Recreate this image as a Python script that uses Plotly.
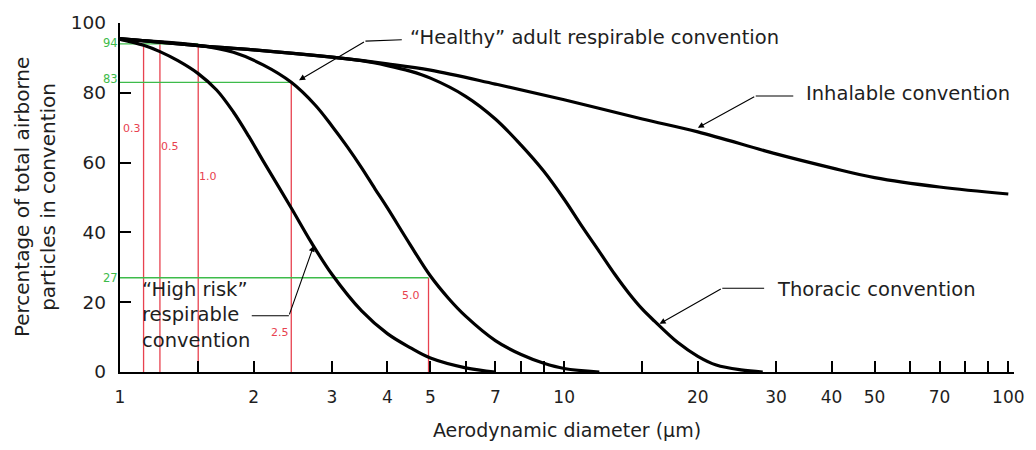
import math
import plotly.graph_objects as go

# ---------------- data ----------------
inh_d = [1, 1.5, 2, 3, 4, 5, 7, 10, 15, 20, 30, 40, 50, 70, 100]
inh_v = [95.5, 93.5, 92.3, 90.2, 88.3, 86.5, 82.5, 78, 72.5, 68.8, 62.5, 58.5, 55.7, 53, 51]

tho_d = [1, 1.5, 2, 3, 3.5, 4, 4.5, 5, 6, 7, 8, 9, 10, 11, 12, 13, 14, 15, 16, 18, 20, 22, 25, 28]
tho_v = [95.5, 93.5, 92.3, 90.2, 89.2, 87.8, 86.2, 84.2, 79, 72.5, 65, 57.5, 49.5, 41.5, 34.5, 28, 22.5, 18, 14.5, 8.5, 4.5, 2, 0.6, 0]

hea_d = [1, 1.5, 1.8, 2.1, 2.43, 2.75, 3, 3.25, 3.5, 3.75, 4, 4.5, 5, 5.5, 6, 7, 8, 9, 10, 12]
hea_v = [95.3, 93.6, 91.6, 88, 83, 76.5, 70.5, 64.5, 58.5, 52.5, 47, 36.5, 27.5, 21, 16, 9, 5, 2.5, 1, 0]

hr_d = [1, 1.13, 1.23, 1.35, 1.5, 1.65, 1.8, 1.95, 2.1, 2.43, 2.7, 3, 3.5, 4, 4.5, 5, 6, 7]
hr_v = [95.3, 93.6, 91.8, 89.2, 85.5, 80.8, 74.5, 67.5, 60.5, 47, 37, 28, 17.5, 11, 7, 4, 1.2, 0]

red_x = [1.13, 1.23, 1.5, 2.43, 4.95]
red_top = [94, 94, 94, 83, 27]
red_labels = ["0.3", "0.5", "1.0", "2.5", "5.0"]

green_y = [94, 83, 27]
green_xend = [1.5, 2.43, 4.95]
green_labels = ["94", "83", "27"]

x_tickvals = [1, 1.5, 2, 3, 4, 5, 6, 7, 8, 9, 10, 15, 20, 30, 40, 50, 60, 70, 80, 90, 100]
x_ticklabels = ["1", "", "2", "3", "4", "5", "", "7", "", "", "10", "", "20", "30", "40", "50", "", "70", "", "", "100"]
y_tickvals = [0, 20, 40, 60, 80, 100]

curve_names = ["Inhalable convention", "Thoracic convention",
               "\u201cHealthy\u201d adult respirable convention",
               "\u201cHigh risk\u201d<br>respirable<br>convention"]

x_title = "Aerodynamic diameter (\u03bcm)"
y_title = "Percentage of total airborne<br>particles in convention"

# ---------------- layout helpers (positions / styles) ----------------
FONT = "DejaVu Sans"
RED = "#e8424f"
GREEN = "#3dbb4a"
TXT = "#1e1e1e"
L = math.log10

fig = go.Figure()

# reference lines
for x, top in zip(red_x, red_top):
    fig.add_trace(go.Scatter(x=[x, x], y=[0, top], mode="lines",
                             line=dict(color=RED, width=1.3), hoverinfo="skip", showlegend=False))
for y, xe in zip(green_y, green_xend):
    fig.add_trace(go.Scatter(x=[1, xe], y=[y, y], mode="lines",
                             line=dict(color=GREEN, width=1.3), hoverinfo="skip", showlegend=False))

# curves
for d, v in [(inh_d, inh_v), (tho_d, tho_v), (hea_d, hea_v), (hr_d, hr_v)]:
    fig.add_trace(go.Scatter(x=d, y=v, mode="lines",
                             line=dict(color="black", width=3.2, shape="spline", smoothing=1.0),
                             hoverinfo="skip", showlegend=False))

# leader lines: (text end, elbow, tip)
leaders = [
    ([4.31, 3.57, 2.53], [95.2, 94.8, 83.6]),
    ([32.8, 27.0, 20.0], [79.1, 79.1, 70.0]),
    ([28.2, 22.7, 16.4], [24.0, 24.0, 13.8]),
    ([1.98, 2.40, 2.73], [16.1, 16.1, 36.2]),
]
annotations = []
for xs, ys in leaders:
    fig.add_trace(go.Scatter(x=xs[:2], y=ys[:2], mode="lines",
                             line=dict(color="black", width=1.1), hoverinfo="skip", showlegend=False))
    annotations.append(dict(x=L(xs[2]), y=ys[2], ax=L(xs[1]), ay=ys[1], xref="x", yref="y",
                            axref="x", ayref="y", text="", showarrow=True,
                            arrowhead=2, arrowsize=1.1, arrowwidth=1.1, arrowcolor="black"))

# curve labels
label_pos = [(34.7, 79.7), (29.9, 23.7), (4.46, 95.8), (1.108, 16.4)]
for name, (x, y) in zip(curve_names, label_pos):
    annotations.append(dict(x=L(x), y=y, xref="x", yref="y", text=name, showarrow=False,
                            xanchor="left", yanchor="middle", align="left",
                            font=dict(family=FONT, size=19.5, color=TXT)))

# red labels
red_label_pos = [(1.064, 69.8), (1.294, 64.7), (1.58, 56), (2.29, 11.3), (4.53, 22)]
for t, (x, y) in zip(red_labels, red_label_pos):
    annotations.append(dict(x=L(x), y=y, xref="x", yref="y", text=t, showarrow=False,
                            xanchor="center", yanchor="middle",
                            font=dict(family=FONT, size=11, color=RED)))
# green labels
for t, y, ys in zip(green_labels, green_y, [1, 3, 0]):
    annotations.append(dict(x=0, y=y, xref="paper", yref="y", text=t, showarrow=False,
                            xanchor="right", yanchor="middle", xshift=0, yshift=ys,
                            font=dict(family=FONT, size=11.5, color=GREEN)))

# y-axis title (two rotated lines)
annotations.append(dict(x=-0.0955, y=0.50, xref="paper", yref="paper", text=y_title,
                        showarrow=False, textangle=-90, xanchor="center", yanchor="middle",
                        font=dict(family=FONT, size=20, color=TXT)))

fig.update_layout(
    width=1036, height=450,
    margin=dict(l=120, r=16, t=18, b=78),
    paper_bgcolor="white", plot_bgcolor="white",
    annotations=annotations,
    font=dict(family=FONT, color=TXT),
)
fig.update_xaxes(type="log", range=[0, L(103)], tickvals=x_tickvals, ticktext=x_ticklabels,
                 ticks="inside", ticklen=11, tickwidth=1.5, tickcolor="black",
                 showline=True, linecolor="black", linewidth=2.4, showgrid=False, zeroline=False,
                 tickfont=dict(family=FONT, size=17, color=TXT), ticklabelstandoff=8,
                 title=dict(text=x_title, font=dict(family=FONT, size=19, color=TXT), standoff=18))
fig.update_yaxes(range=[0, 100], tickvals=y_tickvals,
                 ticks="inside", ticklen=11, tickwidth=1.5, tickcolor="black",
                 showline=True, linecolor="black", linewidth=2.4, showgrid=False, zeroline=False,
                 tickfont=dict(family=FONT, size=18.5, color=TXT), ticklabelstandoff=8)

fig.write_html("out.html")
